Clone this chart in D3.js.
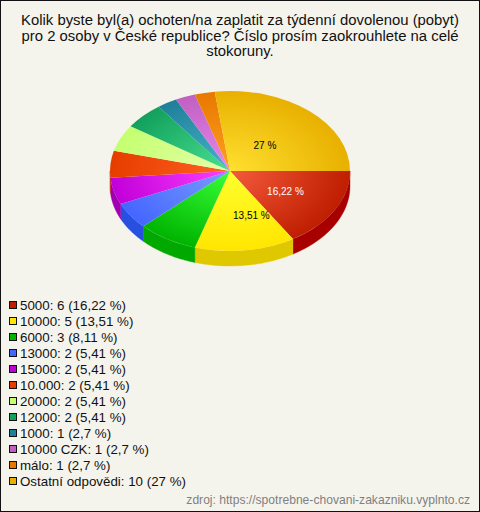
<!DOCTYPE html>
<html><head><meta charset="utf-8">
<script src="https://cdn.jsdelivr.net/npm/d3@7"></script>
<style>html,body{margin:0;padding:0;background:#f5f4ec}svg{display:block}text{font-family:"Liberation Sans",Arial,sans-serif}</style>
</head><body><svg id="c" width="480" height="512"></svg>
<script>
const categories=["5000","10000","6000","13000","15000","10.000","20000","12000","1000","10000 CZK","málo","Ostatní odpovědi"];
const counts=[6,5,3,2,2,2,2,2,1,1,1,10];
const percentLabels=["16,22","13,51","8,11","5,41","5,41","5,41","5,41","5,41","2,7","2,7","2,7","27"];
const baseColors=["#bf1e00","#ffe600","#00b400","#4466ff","#c000d8","#e63c00","#c4ff70","#12a05c","#1f7f9a","#c060c0","#e87800","#e8b000"];
const lightColors=["#f55a3c","#ffff30","#38ff38","#7a9cff","#ff40ff","#ff6420","#e6ffaa","#48e090","#48b4c8","#e888f0","#ffa020","#ffe030"];
const sideColors=["#a80000","#e0c800","#00a800","#2850e0","#a000b0","#c83000","#a0e050","#008848","#106078","#a040a0","#c86000","#c89000"];
const titleLines=["Kolik byste byl(a) ochoten/na zaplatit za týdenní dovolenou (pobyt)","pro 2 osoby v České republice? Číslo prosím zaokrouhlete na celé","stokoruny."];
const sourceText="zdroj: https://spotrebne-chovani-zakazniku.vyplnto.cz";

const W=480,H=512,cx=230,cy=171,rx=120,ry=80,depth=15;
const svg=d3.select("#c");
svg.append("rect").attr("x",.5).attr("y",.5).attr("width",W-1).attr("height",H-1).attr("fill","#f5f4ec").attr("stroke","#111");
const defs=svg.append("defs");
const title=svg.append("text").attr("text-anchor","middle").attr("font-size",14.87).attr("fill","#111");
titleLines.forEach((t,i)=>title.append("tspan").attr("x",240).attr("y",25+i*15.5).text(t));

const pie=d3.pie().sort(null).startAngle(Math.PI/2).endAngle(Math.PI/2+2*Math.PI);
const arcs=pie(counts);
const arc=d3.arc().innerRadius(0).outerRadius(rx);
baseColors.forEach((c,i)=>{
  const g=defs.append("radialGradient").attr("id","g"+i).attr("gradientUnits","userSpaceOnUse").attr("cx",0).attr("cy",0).attr("r",rx);
  g.append("stop").attr("offset",0).attr("stop-color",lightColors[i]);
  g.append("stop").attr("offset",1).attr("stop-color",c);
});
const pt=(a,d)=>[cx+rx*Math.sin(a),cy-ry*Math.cos(a)+d];
const sides=svg.append("g");
arcs.forEach((d,i)=>{
  const a0=Math.max(d.startAngle,Math.PI/2),a1=Math.min(d.endAngle,3*Math.PI/2);
  if(a1<=a0)return;
  const ts=d3.range(0,25).map(k=>a0+(a1-a0)*k/24);
  const path=d3.line()(ts.map(t=>pt(t,0)).concat(ts.slice().reverse().map(t=>pt(t,depth))))+"Z";
  sides.append("path").attr("d",path).attr("fill",sideColors[i]).attr("stroke",sideColors[i]).attr("stroke-width",.4);
});
const topFace=svg.append("g").attr("transform",`translate(${cx},${cy}) scale(1,${ry/rx})`);
topFace.selectAll("path").data(arcs).join("path").attr("d",arc).attr("fill",(d,i)=>`url(#g${i})`);
[[0,"#fff",.52,1],[1,"#000",.55,13],[11,"#000",.44,0]].forEach(([i,col,f,dx])=>{
  const m=(arcs[i].startAngle+arcs[i].endAngle)/2;
  svg.append("text").attr("x",cx+rx*f*Math.sin(m)+dx).attr("y",cy-ry*f*Math.cos(m)+4).attr("text-anchor","middle")
    .attr("font-size",10).attr("fill",col).text(percentLabels[i]+" %");
});
const leg=svg.append("g");
categories.forEach((c,i)=>{
  const y=305+i*16;
  leg.append("rect").attr("x",9.5).attr("y",y-3.5).attr("width",7).attr("height",7).attr("fill",baseColors[i]).attr("stroke","#111");
  leg.append("text").attr("x",20).attr("y",y+4.5).attr("font-size",13.33).attr("fill","#111").text(`${c}: ${counts[i]} (${percentLabels[i]} %)`);
});
svg.append("text").attr("x",470).attr("y",504).attr("text-anchor","end").attr("font-size",12.1).attr("fill","#808080").text(sourceText);
</script></body></html>
